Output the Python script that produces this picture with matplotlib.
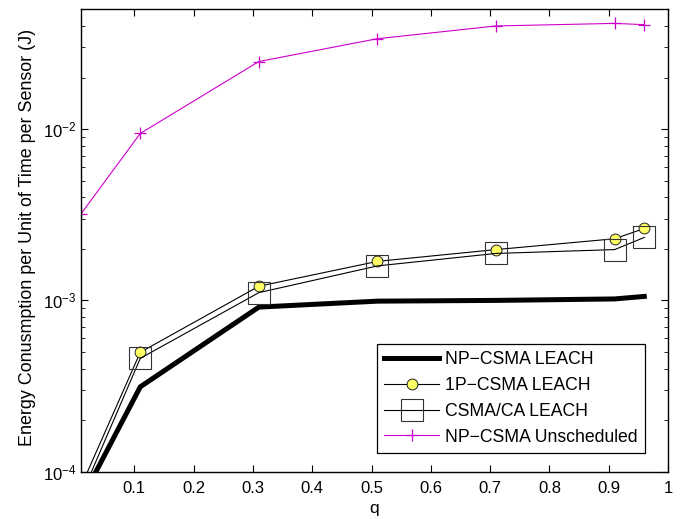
import matplotlib
matplotlib.use("Agg")
import matplotlib.pyplot as plt
from matplotlib.ticker import LogLocator, FixedLocator, FixedFormatter

plt.rcParams['font.family'] = ['Liberation Sans', 'DejaVu Sans']
plt.rcParams['mathtext.fontset'] = 'custom'
plt.rcParams['mathtext.rm'] = 'Liberation Sans'

q = [0.01, 0.11, 0.31, 0.51, 0.71, 0.91, 0.96]
np_csma_leach = [6.8e-5, 3.13e-4, 9.14e-4, 0.99e-3, 1.0e-3, 1.02e-3, 1.055e-3]
p1_csma_leach = [8.2e-5, 4.98e-4, 1.21e-3, 1.69e-3, 1.98e-3, 2.29e-3, 2.63e-3]
csma_ca_leach = [7.2e-5, 4.59e-4, 1.11e-3, 1.59e-3, 1.88e-3, 1.98e-3, 2.33e-3]
np_csma_unsched = [3.2e-3, 9.43e-3, 2.48e-2, 3.37e-2, 4.0e-2, 4.14e-2, 4.07e-2]

labels = ["NP\u2212CSMA LEACH", "1P\u2212CSMA LEACH", "CSMA/CA LEACH", "NP\u2212CSMA Unscheduled"]
xticks = [0.1, 0.2, 0.3, 0.4, 0.5, 0.6, 0.7, 0.8, 0.9, 1.0]
xticklabels = ["0.1", "0.2", "0.3", "0.4", "0.5", "0.6", "0.7", "0.8", "0.9", "1"]

fig = plt.figure(figsize=(6.84, 5.19), dpi=100)
ax = fig.add_axes([0.1184, 0.0911, 0.9766 - 0.1184, 0.982 - 0.0911])

ax.plot(q, np_csma_leach, color='k', lw=3.6, label=labels[0], solid_joinstyle='miter')
ax.plot(q, p1_csma_leach, color='k', lw=0.8, marker='o', ms=7.8,
        mfc='#ffff66', mec='#222222', mew=0.7, label=labels[1])
ax.plot(q, csma_ca_leach, color='k', lw=0.8, marker='s', ms=15.5,
        mfc='none', mec='#333333', mew=0.8, label=labels[2])
ax.plot(q, np_csma_unsched, color='#cc00cc', lw=0.8, marker='+', ms=9,
        mew=0.9, label=labels[3])

ax.set_yscale('log')
ax.set_xlim(0.01, 1.0)
ax.set_ylim(1e-4, 0.05)
ax.xaxis.set_major_locator(FixedLocator(xticks))
ax.xaxis.set_major_formatter(FixedFormatter(xticklabels))
ax.yaxis.set_major_locator(LogLocator(base=10, numticks=10))
ax.yaxis.set_minor_locator(LogLocator(base=10, subs=range(2, 10), numticks=10))

ax.tick_params(which='both', direction='in', top=True, right=True, labelsize=12)
ax.tick_params(axis='x', which='major', pad=7)
ax.tick_params(which='major', length=5, width=0.8)
ax.tick_params(which='minor', length=3, width=0.6)
for s in ax.spines.values():
    s.set_linewidth(1.0)

ax.set_xlabel('q', fontsize=12.5, labelpad=3)
ax.set_ylabel('Energy Conusmption per Unit of Time per Sensor (J)', fontsize=12.9)
ax.yaxis.set_label_coords(-0.077, 0.507)

leg = ax.legend(loc='lower right', bbox_to_anchor=(0.9608, 0.0411), borderaxespad=0,
                fontsize=12.7, frameon=True, fancybox=False,
                edgecolor='k', framealpha=1,
                handlelength=3.1, labelspacing=0.5, borderpad=0.4, handletextpad=0.35)
leg.get_frame().set_linewidth(0.9)

fig.savefig('out.png', dpi=100)
